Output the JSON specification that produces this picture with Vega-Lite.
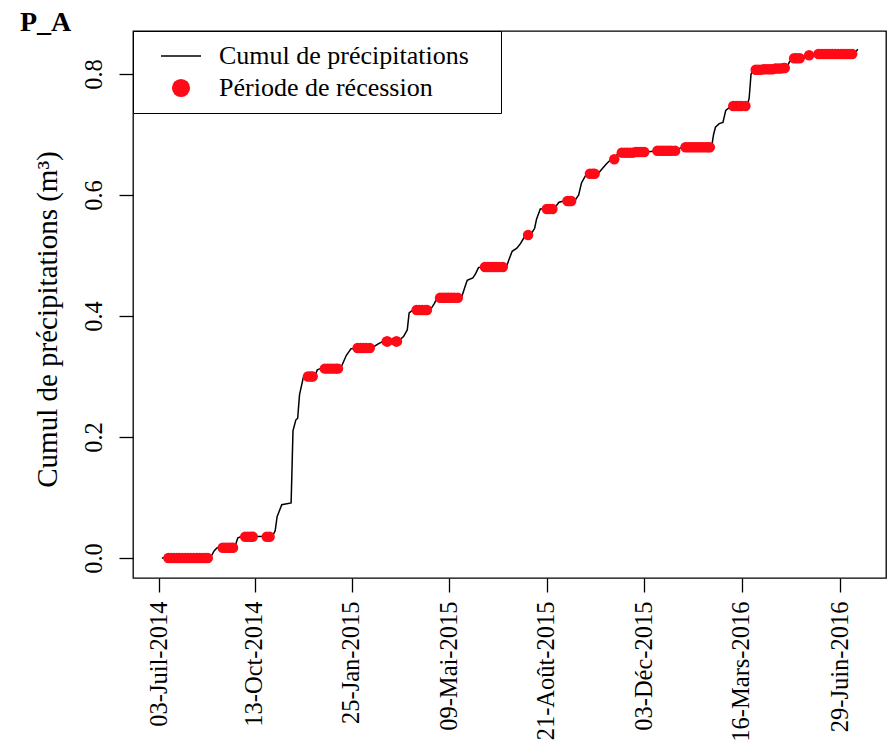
{
  "$schema": "https://vega.github.io/schema/vega-lite/v6.json",
  "width": 753,
  "height": 547,
  "autosize": {"type": "none"},
  "padding": {"left": 133, "top": 31, "right": 2, "bottom": 173},
  "background": "white",
  "title": {"text": "P_A", "anchor": "start", "orient": "top", "frame": "group", "dx": -113, "dy": 28, "offset": 0, "baseline": "alphabetic", "font": "Liberation Serif, Times New Roman, serif", "fontSize": 28, "fontWeight": "bold", "color": "black"},
  "config": {
    "view": {"stroke": "black", "strokeWidth": 1.3},
    "font": "Liberation Serif, Times New Roman, serif"
  },
  "datasets": {
    "cumul": [
      {"date": "2014-07-06", "v": 0.000},
      {"date": "2014-08-27", "v": 0.001},
      {"date": "2014-08-31", "v": 0.012},
      {"date": "2014-09-03", "v": 0.017},
      {"date": "2014-09-22", "v": 0.018},
      {"date": "2014-09-25", "v": 0.033},
      {"date": "2014-09-28", "v": 0.035},
      {"date": "2014-11-01", "v": 0.036},
      {"date": "2014-11-04", "v": 0.045},
      {"date": "2014-11-06", "v": 0.068},
      {"date": "2014-11-11", "v": 0.088},
      {"date": "2014-11-21", "v": 0.091},
      {"date": "2014-11-22", "v": 0.150},
      {"date": "2014-11-23", "v": 0.210},
      {"date": "2014-11-26", "v": 0.228},
      {"date": "2014-11-28", "v": 0.231},
      {"date": "2014-11-30", "v": 0.270},
      {"date": "2014-12-04", "v": 0.298},
      {"date": "2014-12-16", "v": 0.300},
      {"date": "2014-12-19", "v": 0.311},
      {"date": "2014-12-22", "v": 0.313},
      {"date": "2015-01-13", "v": 0.314},
      {"date": "2015-01-19", "v": 0.335},
      {"date": "2015-01-24", "v": 0.346},
      {"date": "2015-02-16", "v": 0.348},
      {"date": "2015-02-22", "v": 0.354},
      {"date": "2015-02-27", "v": 0.358},
      {"date": "2015-03-16", "v": 0.359},
      {"date": "2015-03-21", "v": 0.366},
      {"date": "2015-03-25", "v": 0.377},
      {"date": "2015-03-27", "v": 0.405},
      {"date": "2015-03-31", "v": 0.410},
      {"date": "2015-04-19", "v": 0.411},
      {"date": "2015-04-23", "v": 0.421},
      {"date": "2015-04-26", "v": 0.430},
      {"date": "2015-05-22", "v": 0.431},
      {"date": "2015-05-26", "v": 0.450},
      {"date": "2015-05-28", "v": 0.459},
      {"date": "2015-06-03", "v": 0.463},
      {"date": "2015-06-06", "v": 0.470},
      {"date": "2015-06-09", "v": 0.480},
      {"date": "2015-06-12", "v": 0.481},
      {"date": "2015-07-09", "v": 0.482},
      {"date": "2015-07-12", "v": 0.495},
      {"date": "2015-07-15", "v": 0.507},
      {"date": "2015-07-20", "v": 0.512},
      {"date": "2015-07-24", "v": 0.520},
      {"date": "2015-07-29", "v": 0.533},
      {"date": "2015-08-04", "v": 0.535},
      {"date": "2015-08-08", "v": 0.545},
      {"date": "2015-08-10", "v": 0.560},
      {"date": "2015-08-14", "v": 0.577},
      {"date": "2015-08-29", "v": 0.578},
      {"date": "2015-09-03", "v": 0.588},
      {"date": "2015-09-08", "v": 0.590},
      {"date": "2015-09-20", "v": 0.591},
      {"date": "2015-09-24", "v": 0.600},
      {"date": "2015-09-27", "v": 0.620},
      {"date": "2015-10-02", "v": 0.634},
      {"date": "2015-10-15", "v": 0.636},
      {"date": "2015-10-20", "v": 0.645},
      {"date": "2015-10-24", "v": 0.652},
      {"date": "2015-10-28", "v": 0.658},
      {"date": "2015-11-01", "v": 0.660},
      {"date": "2015-11-05", "v": 0.669},
      {"date": "2015-12-05", "v": 0.671},
      {"date": "2015-12-10", "v": 0.672},
      {"date": "2016-01-07", "v": 0.674},
      {"date": "2016-01-12", "v": 0.679},
      {"date": "2016-02-13", "v": 0.680},
      {"date": "2016-02-15", "v": 0.700},
      {"date": "2016-02-17", "v": 0.712},
      {"date": "2016-02-21", "v": 0.718},
      {"date": "2016-02-25", "v": 0.720},
      {"date": "2016-02-28", "v": 0.740},
      {"date": "2016-03-04", "v": 0.746},
      {"date": "2016-03-22", "v": 0.748},
      {"date": "2016-03-24", "v": 0.760},
      {"date": "2016-03-26", "v": 0.800},
      {"date": "2016-03-29", "v": 0.807},
      {"date": "2016-05-03", "v": 0.810},
      {"date": "2016-05-06", "v": 0.820},
      {"date": "2016-05-09", "v": 0.826},
      {"date": "2016-05-23", "v": 0.828},
      {"date": "2016-05-27", "v": 0.831},
      {"date": "2016-06-02", "v": 0.833},
      {"date": "2016-07-15", "v": 0.835},
      {"date": "2016-07-18", "v": 0.841}
    ],
    "recession": [
      {"date": "2014-07-13", "v": 0.000}, {"date": "2014-07-16", "v": 0.000}, {"date": "2014-07-19", "v": 0.000},
      {"date": "2014-07-22", "v": 0.000}, {"date": "2014-07-25", "v": 0.000}, {"date": "2014-07-28", "v": 0.000},
      {"date": "2014-07-31", "v": 0.000}, {"date": "2014-08-03", "v": 0.000}, {"date": "2014-08-06", "v": 0.000},
      {"date": "2014-08-09", "v": 0.000}, {"date": "2014-08-12", "v": 0.000}, {"date": "2014-08-15", "v": 0.000},
      {"date": "2014-08-18", "v": 0.000}, {"date": "2014-08-21", "v": 0.000}, {"date": "2014-08-24", "v": 0.000},
      {"date": "2014-09-09", "v": 0.017}, {"date": "2014-09-12", "v": 0.017}, {"date": "2014-09-15", "v": 0.017},
      {"date": "2014-09-18", "v": 0.017}, {"date": "2014-09-20", "v": 0.017},
      {"date": "2014-10-03", "v": 0.035}, {"date": "2014-10-06", "v": 0.035}, {"date": "2014-10-09", "v": 0.035},
      {"date": "2014-10-11", "v": 0.035},
      {"date": "2014-10-26", "v": 0.035}, {"date": "2014-10-29", "v": 0.035},
      {"date": "2014-12-09", "v": 0.300}, {"date": "2014-12-12", "v": 0.300}, {"date": "2014-12-14", "v": 0.300},
      {"date": "2014-12-27", "v": 0.313}, {"date": "2014-12-30", "v": 0.313}, {"date": "2015-01-02", "v": 0.313},
      {"date": "2015-01-05", "v": 0.313}, {"date": "2015-01-08", "v": 0.313}, {"date": "2015-01-10", "v": 0.313},
      {"date": "2015-01-31", "v": 0.347}, {"date": "2015-02-03", "v": 0.347}, {"date": "2015-02-06", "v": 0.347},
      {"date": "2015-02-09", "v": 0.347}, {"date": "2015-02-13", "v": 0.347},
      {"date": "2015-03-03", "v": 0.358}, {"date": "2015-03-04", "v": 0.358}, {"date": "2015-03-13", "v": 0.358},
      {"date": "2015-03-14", "v": 0.358},
      {"date": "2015-04-04", "v": 0.410}, {"date": "2015-04-07", "v": 0.410}, {"date": "2015-04-10", "v": 0.410},
      {"date": "2015-04-13", "v": 0.410}, {"date": "2015-04-15", "v": 0.410},
      {"date": "2015-04-29", "v": 0.430}, {"date": "2015-05-02", "v": 0.430}, {"date": "2015-05-05", "v": 0.430},
      {"date": "2015-05-08", "v": 0.430}, {"date": "2015-05-11", "v": 0.430}, {"date": "2015-05-14", "v": 0.430},
      {"date": "2015-05-18", "v": 0.430},
      {"date": "2015-06-16", "v": 0.481}, {"date": "2015-06-19", "v": 0.481}, {"date": "2015-06-22", "v": 0.481},
      {"date": "2015-06-25", "v": 0.481}, {"date": "2015-06-28", "v": 0.481}, {"date": "2015-07-01", "v": 0.481},
      {"date": "2015-07-05", "v": 0.481},
      {"date": "2015-08-01", "v": 0.534},
      {"date": "2015-08-21", "v": 0.577}, {"date": "2015-08-24", "v": 0.577}, {"date": "2015-08-27", "v": 0.577},
      {"date": "2015-09-12", "v": 0.590}, {"date": "2015-09-14", "v": 0.590}, {"date": "2015-09-16", "v": 0.590},
      {"date": "2015-10-06", "v": 0.635}, {"date": "2015-10-09", "v": 0.635}, {"date": "2015-10-11", "v": 0.635},
      {"date": "2015-11-01", "v": 0.659},
      {"date": "2015-11-09", "v": 0.670}, {"date": "2015-11-12", "v": 0.670}, {"date": "2015-11-15", "v": 0.670},
      {"date": "2015-11-18", "v": 0.670}, {"date": "2015-11-21", "v": 0.670}, {"date": "2015-11-24", "v": 0.671},
      {"date": "2015-11-27", "v": 0.671}, {"date": "2015-11-30", "v": 0.671}, {"date": "2015-12-03", "v": 0.671},
      {"date": "2015-12-17", "v": 0.673}, {"date": "2015-12-20", "v": 0.673}, {"date": "2015-12-23", "v": 0.673},
      {"date": "2015-12-26", "v": 0.673}, {"date": "2015-12-29", "v": 0.673}, {"date": "2016-01-01", "v": 0.673},
      {"date": "2016-01-05", "v": 0.673},
      {"date": "2016-01-16", "v": 0.679}, {"date": "2016-01-19", "v": 0.679}, {"date": "2016-01-22", "v": 0.679},
      {"date": "2016-01-25", "v": 0.679}, {"date": "2016-01-28", "v": 0.679}, {"date": "2016-01-31", "v": 0.679},
      {"date": "2016-02-03", "v": 0.679}, {"date": "2016-02-06", "v": 0.679}, {"date": "2016-02-09", "v": 0.679},
      {"date": "2016-02-11", "v": 0.679},
      {"date": "2016-03-07", "v": 0.747}, {"date": "2016-03-10", "v": 0.747}, {"date": "2016-03-13", "v": 0.747},
      {"date": "2016-03-16", "v": 0.747}, {"date": "2016-03-20", "v": 0.747},
      {"date": "2016-03-31", "v": 0.807}, {"date": "2016-04-03", "v": 0.807}, {"date": "2016-04-06", "v": 0.807},
      {"date": "2016-04-09", "v": 0.808}, {"date": "2016-04-12", "v": 0.808}, {"date": "2016-04-15", "v": 0.808},
      {"date": "2016-04-18", "v": 0.808}, {"date": "2016-04-21", "v": 0.809}, {"date": "2016-04-24", "v": 0.809},
      {"date": "2016-04-27", "v": 0.809}, {"date": "2016-04-30", "v": 0.810}, {"date": "2016-05-01", "v": 0.810},
      {"date": "2016-05-11", "v": 0.826}, {"date": "2016-05-14", "v": 0.826}, {"date": "2016-05-17", "v": 0.826},
      {"date": "2016-05-27", "v": 0.831},
      {"date": "2016-06-06", "v": 0.833}, {"date": "2016-06-09", "v": 0.833}, {"date": "2016-06-12", "v": 0.833},
      {"date": "2016-06-15", "v": 0.833}, {"date": "2016-06-18", "v": 0.833}, {"date": "2016-06-21", "v": 0.833},
      {"date": "2016-06-24", "v": 0.833}, {"date": "2016-06-27", "v": 0.833}, {"date": "2016-06-30", "v": 0.833},
      {"date": "2016-07-03", "v": 0.833}, {"date": "2016-07-06", "v": 0.833}, {"date": "2016-07-09", "v": 0.833},
      {"date": "2016-07-12", "v": 0.833}
    ]
  },
  "layer": [
    {
      "data": {"name": "cumul"},
      "mark": {"type": "line", "strokeWidth": 1.5, "interpolate": "linear"},
      "encoding": {
        "x": {
          "field": "date", "type": "temporal",
          "scale": {"domain": [{"year": 2014, "month": 6, "date": 5, "hours": 5, "utc": true}, {"year": 2016, "month": 8, "date": 17, "hours": 2, "utc": true}], "nice": false},
          "axis": {
            "values": [
              {"year": 2014, "month": 7, "date": 3, "utc": true},
              {"year": 2014, "month": 10, "date": 13, "utc": true},
              {"year": 2015, "month": 1, "date": 25, "utc": true},
              {"year": 2015, "month": 5, "date": 9, "utc": true},
              {"year": 2015, "month": 8, "date": 21, "utc": true},
              {"year": 2015, "month": 12, "date": 3, "utc": true},
              {"year": 2016, "month": 3, "date": 16, "utc": true},
              {"year": 2016, "month": 6, "date": 29, "utc": true}
            ],
            "labelExpr": "utcFormat(datum.value, '%d') + '-' + ['Jan','Fév','Mars','Avr','Mai','Juin','Juil','Août','Sep','Oct','Nov','Déc'][utcmonth(datum.value)] + '-' + utcFormat(datum.value, '%Y')",
            "labelAngle": -90, "labelAlign": "right", "labelBaseline": "middle",
            "labelFont": "Liberation Serif, Times New Roman, serif", "labelFontSize": 24.5, "labelColor": "black",
            "labelPadding": 9, "labelOverlap": false, "labelBound": false, "labelFlush": false,
            "tickColor": "black", "tickSize": 14, "tickWidth": 1.3,
            "domain": false, "grid": false, "title": null
          }
        },
        "y": {
          "field": "v", "type": "quantitative",
          "scale": {"domain": [-0.0331, 0.8711], "nice": false, "zero": false},
          "axis": {
            "values": [0, 0.2, 0.4, 0.6, 0.8], "format": ".1f",
            "labelAngle": -90, "labelAlign": "center", "labelBaseline": "alphabetic",
            "labelFont": "Liberation Serif, Times New Roman, serif", "labelFontSize": 24.5, "labelColor": "black",
            "labelPadding": 18,
            "tickColor": "black", "tickSize": 14, "tickWidth": 1.3,
            "domain": false, "grid": false,
            "title": "Cumul de précipitations (m³)",
            "titleFont": "Liberation Serif, Times New Roman, serif", "titleFontSize": 29, "titleFontWeight": "normal", "titleColor": "black",
            "titleAngle": 270, "titleAlign": "center", "titleBaseline": "alphabetic",
            "titleX": -77, "titleY": 288
          }
        },
        "color": {
          "datum": "Cumul de précipitations", "type": "nominal",
          "scale": {"domain": ["Cumul de précipitations", "Période de récession"], "range": ["black", "#ff0a16"]},
          "legend": {
            "title": null, "orient": "top-left", "offset": 0, "padding": 12,
            "strokeColor": "black", "fillColor": "white", "cornerRadius": 0,
            "labelFont": "Liberation Serif, Times New Roman, serif", "labelFontSize": 26, "labelColor": "black", "labelLimit": 0,
            "labelExpr": "datum.label + '\u00a0\u00a0\u00a0\u200b'",
            "symbolSize": 1600, "symbolOffset": 23, "labelOffset": 25, "rowPadding": 6,
            "encode": {
              "symbols": {
                "update": {
                  "shape": {"signal": "datum.value === 'Cumul de précipitations' ? 'stroke' : 'circle'"},
                  "size": {"signal": "datum.value === 'Cumul de précipitations' ? 1600 : 330"},
                  "fill": {"signal": "datum.value === 'Cumul de précipitations' ? 'transparent' : '#f5141c'"},
                  "stroke": {"signal": "datum.value === 'Cumul de précipitations' ? 'black' : '#f5141c'"},
                  "strokeWidth": {"signal": "datum.value === 'Cumul de précipitations' ? 1.3 : 0"},
                  "opacity": {"value": 1}
                }
              }
            }
          }
        }
      }
    },
    {
      "data": {"name": "recession"},
      "mark": {"type": "point", "filled": true, "size": 110, "opacity": 1, "shape": "circle"},
      "encoding": {
        "x": {"field": "date", "type": "temporal"},
        "y": {"field": "v", "type": "quantitative"},
        "color": {"datum": "Période de récession", "type": "nominal"}
      }
    }
  ]
}
